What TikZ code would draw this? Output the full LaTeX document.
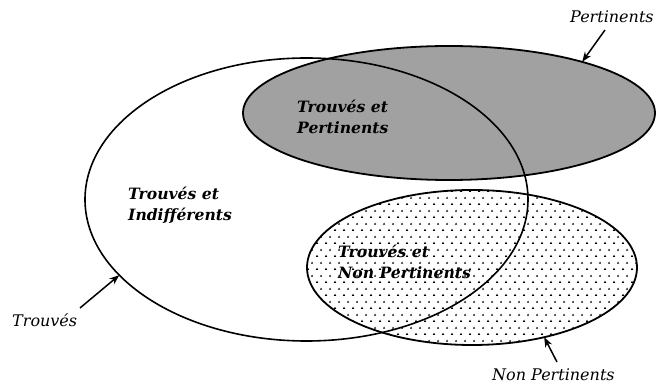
\documentclass[tikz,border=0pt]{standalone}
\usepackage{fontspec}
\setmainfont{DejaVu Serif}
\usetikzlibrary{shapes.geometric,arrows.meta,patterns}
\pgfdeclarepatternformonly{sparsedots}{\pgfpoint{0pt}{0pt}}{\pgfpoint{9pt}{12.6pt}}{\pgfpoint{9pt}{12.6pt}}{%
  \pgfpathmoveto{\pgfpoint{1.0pt}{2.3pt}}%
  \pgfpathlineto{\pgfpoint{3.5pt}{2.3pt}}%
  \pgfpathlineto{\pgfpoint{2.25pt}{4.4pt}}%
  \pgfpathclose
  \pgfpathmoveto{\pgfpoint{5.5pt}{8.6pt}}%
  \pgfpathlineto{\pgfpoint{8.0pt}{8.6pt}}%
  \pgfpathlineto{\pgfpoint{6.75pt}{10.7pt}}%
  \pgfpathclose
  \pgfusepath{fill}%
}
\tikzset{
  setshape/.style={ellipse, inner sep=0pt, outer sep=0pt, line width=1.8pt, draw=black},
  biglabel/.style={anchor=base west, inner sep=0pt, align=left,
    font=\fontsize{15.6}{21}\selectfont\bfseries\itshape},
  smalllabel/.style={anchor=base west, inner sep=0pt,
    font=\fontsize{16}{18}\selectfont\itshape},
  arr/.style={line width=1.5pt, -{Stealth[length=10pt,width=7.5pt]}},
}
\begin{document}
\begin{tikzpicture}[x=1pt,y=-1pt]
\path[fill=white, use as bounding box] (0,0) rectangle (657,387);
% Pertinents (shaded)
\node[setshape, fill=black!37, minimum width=412pt, minimum height=134pt] (P) at (449,113) {};
% Non Pertinents (dotted)
\node[setshape, pattern=sparsedots, pattern color=black, minimum width=330pt, minimum height=155pt] (N) at (472,267.5) {};
% Trouves (outline only)
\node[setshape, line width=1.6pt, minimum width=443pt, minimum height=283pt] (T) at (306.5,199.5) {};
% region labels (anchor at baseline of last line)
\node[biglabel] (ti) at (128,221) {Trouvés et\\Indifférents};
\node[biglabel] (tp) at (297,134) {Trouvés et\\Pertinents};
\node[biglabel] (tn) at (338,279) {Trouvés et\\Non Pertinents};
% set labels
\node[smalllabel] (lp) at (570,23) {Pertinents};
\node[smalllabel] (lt) at (12,327) {Trouvés};
\node[smalllabel] (ln) at (492,381) {Non Pertinents};
\coordinate (cp) at (605,30);
\coordinate (ct) at (80,308);
\coordinate (cn) at (557,362);
\draw[arr] (cp) -- (P.21.3);
\draw[arr] (ct) -- (T.202.3);
\draw[arr] (cn) -- (N.-44.4);
\end{tikzpicture}
\end{document}
